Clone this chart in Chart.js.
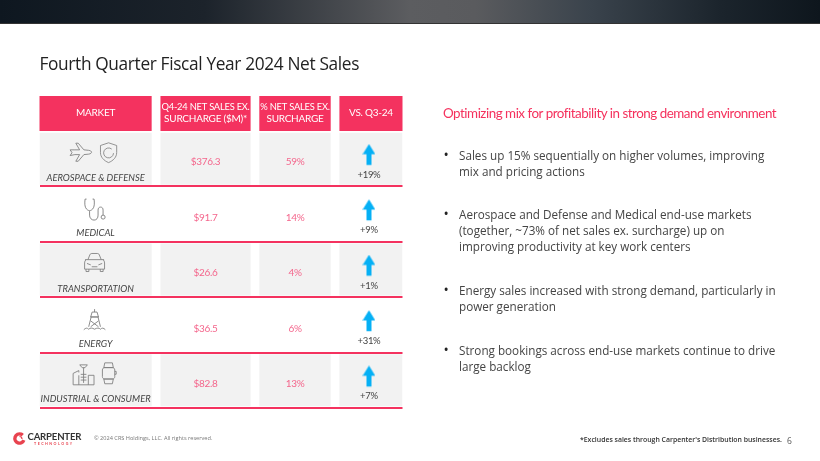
<!DOCTYPE html>
<html>
<head>
<meta charset="utf-8">
<script src="https://cdn.jsdelivr.net/npm/chart.js@4/dist/chart.umd.min.js"></script>
<style>
  html,body{margin:0;padding:0;background:#fff}
  #slide{position:relative;width:820px;height:461px;overflow:hidden;font-family:"Open Sans",sans-serif}
  #tabla{position:absolute;left:0;top:0}
  #barra{position:absolute;left:0;top:0;width:820px;height:24px;border-bottom:1px solid #333;box-sizing:border-box;
    background:linear-gradient(90deg,#0e1720 0%,#1c232b 25%,#5c5d60 50%,#5a5b5e 58%,#3a434c 72%,#1b242c 88%,#0e161d 100%)}
  .t{position:absolute;white-space:nowrap}
  #titulo{left:39.5px;top:51px;font-weight:400;font-size:17.3px;line-height:26px;color:#222;letter-spacing:-.35px}
  #sub{left:443px;top:103px;font-family:Lato,sans-serif;font-size:13.4px;line-height:20px;color:#f5315d;letter-spacing:-.48px}
  .bl{left:459px;font-size:11.7px;line-height:16px;color:#444;white-space:pre}
  .bl::before{content:"•";position:absolute;left:-15.500px;font-size:14px;color:#222}
  #copy{left:94px;top:434px;font-size:5.6px;line-height:8px;color:#777}
  #nota{left:580px;top:435px;font-weight:600;font-size:6.9px;line-height:10px;color:#333}
  #pag{left:787px;top:435px;font-size:8.500px;line-height:12px;color:#555}
  #logo1{left:27.500px;top:431px;font-family:Lato,sans-serif;font-weight:700;font-size:9.6px;line-height:12px;color:#333;letter-spacing:-.2px}
  #logo2{left:34px;top:441px;font-family:Lato,sans-serif;font-weight:700;font-size:3.6px;line-height:5px;color:#e8434f;letter-spacing:1.5px}
</style>
</head>
<body>
<div id="slide">
  <canvas id="tabla" width="820" height="461"></canvas>
  <div id="barra"></div>
  <div class="t" id="titulo">Fourth Quarter Fiscal Year 2024 Net Sales</div>
  <div class="t" id="sub">Optimizing mix for profitability in strong demand environment</div>
  <div class="t bl" style="top:147px">Sales up 15% sequentially on higher volumes, improving
mix and pricing actions</div>
  <div class="t bl" style="top:206px">Aerospace and Defense and Medical end-use markets
(together, ~73% of net sales ex. surcharge) up on
improving productivity at key work centers</div>
  <div class="t bl" style="top:282px">Energy sales increased with strong demand, particularly in
power generation</div>
  <div class="t bl" style="top:342px">Strong bookings across end-use markets continue to drive
large backlog</div>
  <svg style="position:absolute;left:12px;top:431px" width="15" height="15" viewBox="0 0 15 15">
    <circle cx="7.500" cy="7.500" r="4.600" fill="none" stroke="#e8434f" stroke-width="3.400" stroke-dasharray="23 6" transform="rotate(20 7.500 7.500)"/>
    <path d="M7.500 5.500a2.500 2.500 0 0 1 2.500 2.500" fill="none" stroke="#e8434f" stroke-width="1.200"/>
  </svg>
  <div class="t" id="logo1">CARPENTER</div>
  <div class="t" id="logo2">TECHNOLOGY</div>
  <div class="t" id="copy">© 2024 CRS Holdings, LLC. All rights reserved.</div>
  <div class="t" id="nota">*Excludes sales through Carpenter's Distribution businesses.</div>
  <div class="t" id="pag">6</div>
</div>
<script>
const mercados = ['AEROSPACE & DEFENSE','MEDICAL','TRANSPORTATION','ENERGY','INDUSTRIAL & CONSUMER'];
const ventas = [376.3, 91.7, 26.6, 36.5, 82.8];
const participacion = [59, 14, 4, 6, 13];
const variacion = [19, 9, 1, 31, 7];
const encabezados = [['MARKET'],['Q4-24 NET SALES EX.','SURCHARGE ($M)*'],['% NET SALES EX.','SURCHARGE'],['VS. Q3-24']];

// ancho de columnas en unidades del eje x (1 unidad = 1 px)
const columnas = [[0,112],[120.8,210.8],[219.5,290.8],[299.5,362.5]];
const centroCol = i => (columnas[i][0]+columnas[i][1])/2;
const ROJO = '#f4325f', GRIS = '#f2f2f2', CIAN = '#05b0f5';
const FUENTE = 'Lato, sans-serif';

// íconos de línea, caja de 24x24
const iconos = [
  [{dx:-15,dy:-6,s:.95,d:'M1 9l2 3-2 3 5-1 5 0-4 7h2.500l6-7 5-.5c2-.3 3-1 3-2s-1-1.700-3-2l-5-.5-6-7H7l4 7-5 0z'},
   {dx:13,dy:-6,s:.9,d:'M12 1l9 3v8c0 5-4 9-9 11-5-2-9-6-9-11V4zM15.500 8a5.500 5.500 0 1 0 2 4.500M12 2.800'}],
  [{dx:-1,dy:-4,s:1,d:'M4 1H2.500C2 5 2 9 4 11c2 2 4 2 6 0 2-2 2-6 1.500-10H10M7 13v4c0 3 2 5 4.500 5s4-2 4-5v-5c0-2 1-3 2.500-3s2.500 1 2.500 3v5M20.500 17a2 2 0 1 0 .1 4 2 2 0 0 0-.1-4z'}],
  [{dx:-1,dy:-7,s:.95,d:'M5 9l2-5c.3-1 1-1.500 2-1.500h6c1 0 1.700.5 2 1.500l2 5M2 9h20M3 9c-1 1-1.500 2-1.500 3.500V19h21v-6.500c0-1.500-.5-2.500-1.500-3.500M3 19v2.500h3V19M18 19v2.500h3V19M4 13l4 1.500M20 13l-4 1.500M9 16.500h6'}],
  [{dx:-1,dy:-5,s:.98,d:'M12 1v3M9.500 4h5l1.500 5H8zM8 9h8M8.500 9L6 19M15.500 9L18 19M8 13l8 6M16 13l-8 6M1 22c2-2 3.500-2 5-.5 1.500-1.500 3.500-1.500 6 0 2.500-1.500 4.500-1.500 6 0 1.500-1.500 3-1.500 5 .5'}],
  [{dx:-12,dy:-5,s:.95,d:'M8 1h8l-2.500 3h-3zM12 4v16M9 11h6M9 14h6M9 17h6M1 22V10l6-3v2h0M23 22V12h-6M1 22h22M7 12v10M17 12v10'},
   {dx:13,dy:-7,s:.95,d:'M8 1h8l1 5H7zM8 23h8l1-5H7zM8 6h8c1.500 0 2.500 1 2.500 2.500v7c0 1.500-1 2.500-2.500 2.500H8c-1.500 0-2.500-1-2.500-2.500v-7C5.500 7 6.500 6 8 6zM18.500 10h1.500v3h-1.500'}]
];

// flecha como pointStyle: el lienzo lleva margen abajo para que quede sobre el rótulo
function crearFlecha(){
  const c = document.createElement('canvas');
  c.width = 13; c.height = 30;
  const g = c.getContext('2d');
  g.fillStyle = CIAN;
  g.beginPath();
  g.moveTo(6.5,0.3); g.lineTo(12.8,10.5); g.lineTo(9,10.5); g.lineTo(9,21.3);
  g.lineTo(4,21.3); g.lineTo(4,10.5); g.lineTo(0.2,10.5);
  g.closePath(); g.fill();
  return c;
}

const filasGrises = (col) => mercados.map((m,i) => i%2===0 ? columnas[col] : null);

// encabezado, textos de celda e íconos, siempre ubicados con las escalas del gráfico
const textosTabla = {
  id:'textosTabla',
  afterDatasetsDraw(chart){
    const {ctx, chartArea, scales:{x,y}} = chart;
    ctx.save();
    ctx.textAlign = 'center';
    ctx.textBaseline = 'middle';
    encabezados.forEach((lineas,c) => {
      const x0 = x.getPixelForValue(columnas[c][0]), x1 = x.getPixelForValue(columnas[c][1]);
      ctx.fillStyle = ROJO;
      ctx.fillRect(x0, chartArea.top-35, x1-x0, 35);
      ctx.fillStyle = '#fff';
      ctx.font = '10px '+FUENTE;
      ctx.letterSpacing = '-0.25px';
      const yc = chartArea.top-18;
      lineas.forEach((l,k) => {
        const yy = lineas.length===1 ? yc : yc+(k-.5)*12.4;
        ctx.fillText(l, (x0+x1)/2, yy, x1-x0-2);
      });
    });
    mercados.forEach((m,i) => {
      const yc = y.getPixelForValue(m), xc = x.getPixelForValue(centroCol(0));
      ctx.fillStyle = '#444';
      ctx.font = 'italic 9.400px '+FUENTE;
      ctx.letterSpacing = '0px';
      ctx.fillText(m, xc, yc+19);
      ctx.fillStyle = '#f4668c';
      ctx.font = '10px '+FUENTE;
      ctx.letterSpacing = '-0.3px';
      ctx.fillText('$'+ventas[i].toFixed(1), x.getPixelForValue(centroCol(1)), yc+3.5);
      ctx.fillText(participacion[i]+'%', x.getPixelForValue(centroCol(2)), yc+3.5);
      ctx.fillStyle = '#444';
      ctx.font = '9.500px '+FUENTE;
      ctx.fillText('+'+variacion[i]+'%', x.getPixelForValue(centroCol(3)-2), yc+16);
      ctx.strokeStyle = '#7d7d7d';
      ctx.lineWidth = .9;
      iconos[i].forEach(ic => {
        ctx.save();
        ctx.translate(xc+ic.dx-12*ic.s, yc+ic.dy-12*ic.s);
        ctx.scale(ic.s, ic.s);
        ctx.stroke(new Path2D(ic.d));
        ctx.restore();
      });
    });
    ctx.restore();
  }
};

new Chart(document.getElementById('tabla').getContext('2d'),{
  type:'bar',
  plugins:[textosTabla],
  data:{
    labels:mercados,
    datasets:[
      ...columnas.map((c,i) => ({label:'fondo'+i, data:filasGrises(i), backgroundColor:GRIS, barPercentage:.94, categoryPercentage:1, grouped:false, order:1})),
      {type:'scatter', label:'VS. Q3-24', data:mercados.map(m => ({x:centroCol(3)-2, y:m})),
        pointStyle:crearFlecha(), pointRadius:10, clip:false, order:0}
    ]
  },
  options:{
    indexAxis:'y', responsive:false, animation:false,
    layout:{padding:{left:39.5, right:417.5, top:131, bottom:53}},
    plugins:{legend:{display:false}, tooltip:{enabled:false}, title:{display:false}},
    scales:{
      x:{type:'linear', display:false, min:0, max:362.5},
      y:{type:'category', labels:mercados, offset:true,
        ticks:{display:false},
        border:{display:false},
        grid:{offset:true, drawTicks:false, lineWidth:2,
          color:c => c.index===0 ? 'rgba(0,0,0,0)' : ROJO}}
    }
  }
});
</script>
</body>
</html>
